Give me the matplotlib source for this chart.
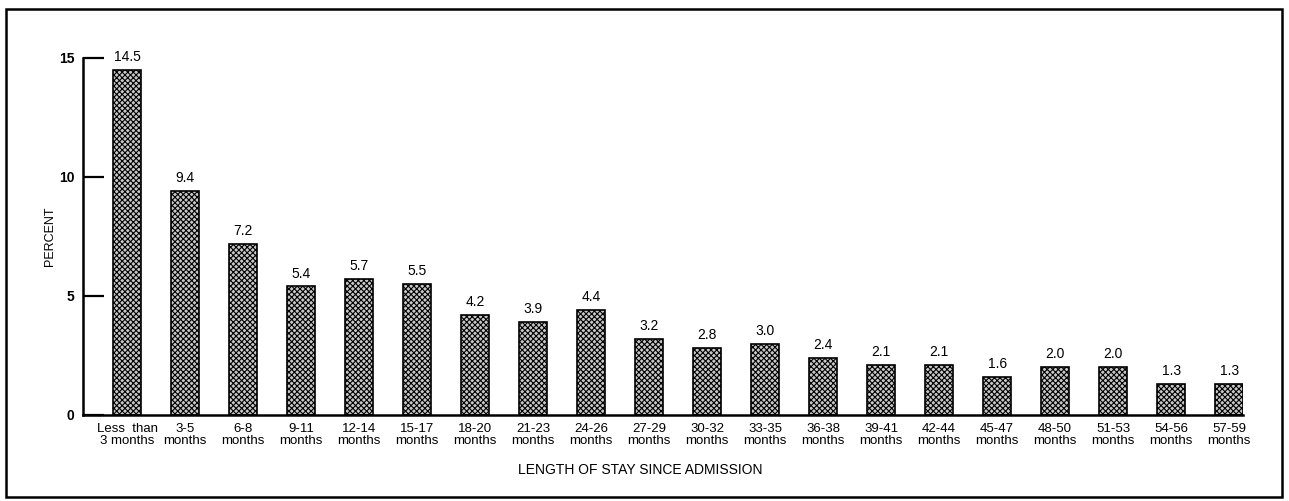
import matplotlib
matplotlib.use("Agg")
import matplotlib.pyplot as plt
from matplotlib.patches import Rectangle

categories = ["Less  than\n3 months", "3-5\nmonths", "6-8\nmonths", "9-11\nmonths",
              "12-14\nmonths", "15-17\nmonths", "18-20\nmonths", "21-23\nmonths",
              "24-26\nmonths", "27-29\nmonths", "30-32\nmonths", "33-35\nmonths",
              "36-38\nmonths", "39-41\nmonths", "42-44\nmonths", "45-47\nmonths",
              "48-50\nmonths", "51-53\nmonths", "54-56\nmonths", "57-59\nmonths"]
values = [14.5, 9.4, 7.2, 5.4, 5.7, 5.5, 4.2, 3.9, 4.4, 3.2, 2.8, 3.0, 2.4, 2.1,
          2.1, 1.6, 2.0, 2.0, 1.3, 1.3]
labels = ["14.5", "9.4", "7.2", "5.4", "5.7", "5.5", "4.2", "3.9", "4.4", "3.2",
          "2.8", "3.0", "2.4", "2.1", "2.1", "1.6", "2.0", "2.0", "1.3", "1.3"]
yticks = [0, 5, 10, 15]

plt.rcParams['font.family'] = ['Liberation Sans', 'DejaVu Sans']
plt.rcParams['hatch.linewidth'] = 0.8
plt.rcParams['hatch.color'] = '#1a1a1a'

fig = plt.figure(figsize=(12.89, 5.01), dpi=100)
ax = fig.add_axes([0.0644, 0.1717, 0.900, 0.7126])

x = list(range(len(values)))
bars = ax.bar(x, values, width=0.49, facecolor='#c8c8c8', edgecolor='black',
              linewidth=1.2, hatch='xxxxxx')
for xi, v, lab in zip(x, values, labels):
    ax.text(xi, v + 0.25, lab, ha='center', va='bottom', fontsize=10)

ax.set_xlim(-0.76, 19.24)
ax.set_ylim(0, 15)
ax.set_yticks(yticks)
ax.set_yticklabels([str(t) for t in yticks], fontsize=10, fontweight='bold')
ax.tick_params(axis='y', direction='in', length=15, width=1.6, pad=6)
ax.set_xticks(x)
ax.set_xticklabels(categories, fontsize=9.5, linespacing=1.0)
ax.tick_params(axis='x', length=0, pad=6)
for s in ['top', 'right']:
    ax.spines[s].set_visible(False)
for s in ['left', 'bottom']:
    ax.spines[s].set_linewidth(1.8)

ax.set_ylabel("PERCENT", fontsize=9, labelpad=2)
fig.text(0.497, 0.062, "LENGTH OF STAY SINCE ADMISSION", ha='center', va='center', fontsize=10)

frame = Rectangle((6 / 1289, 1 - 497 / 501), (1282 - 6) / 1289, (497 - 9) / 501,
                  transform=fig.transFigure, fill=False, edgecolor='black', linewidth=1.8)
fig.patches.append(frame)

fig.savefig("out.png", dpi=100)
